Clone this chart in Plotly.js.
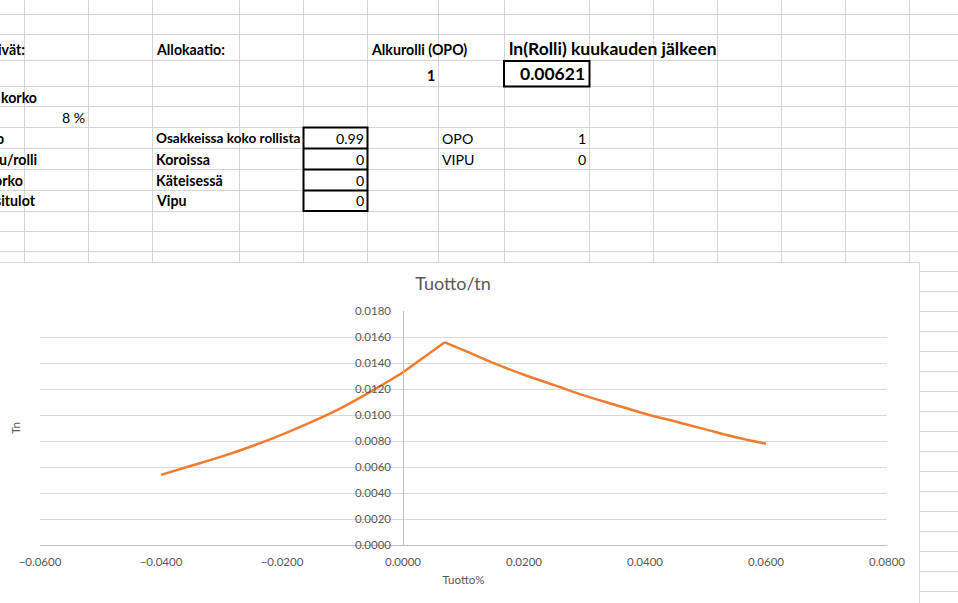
<!DOCTYPE html>
<html>
<head>
<meta charset="utf-8">
<script src="https://cdn.plot.ly/plotly-3.0.1.min.js"></script>
<style>html,body{margin:0;padding:0;background:#fff;}#chart{width:958px;height:603px;}</style>
</head>
<body>
<div id="chart"></div>
<script>
// ---- Data ----
var tuottoPct = [-0.040, -0.035, -0.030, -0.025, -0.020, -0.015, -0.010, -0.005, 0.000, 0.003, 0.0069,
                 0.010, 0.015, 0.020, 0.025, 0.030, 0.035, 0.040, 0.045, 0.050, 0.055, 0.060];
var tn = [0.0054, 0.0061, 0.0068, 0.0076, 0.0085, 0.0095, 0.0106, 0.0119, 0.0133, 0.0143, 0.0156,
          0.0150, 0.0140, 0.0131, 0.0123, 0.0115, 0.0108, 0.0101, 0.0095, 0.0089, 0.0083, 0.0078];

var chartTitle = 'Tuotto/tn';
var xTitle = 'Tuotto%';
var yTitle = 'Tn';

// Spreadsheet cell texts
var sheetLabels = ['ivät:', 'Allokaatio:', 'Alkurolli (OPO)', 'ln(Rolli) kuukauden jälkeen',
                   'korko', 'o', 'u/rolli', 'orko', 'situlot',
                   'Osakkeissa koko rollista', 'Koroissa', 'Käteisessä', 'Vipu', 'OPO', 'VIPU'];
var alkurolli = '1';
var lnRolli = '0.00621';
var korkoPct = '8 %';
var allocValues = ['0.99', '0', '0', '0'];
var flagValues = ['1', '0'];

// ---- Geometry helpers (pixel -> paper) ----
var L = 40, R = 887, T = 311, B = 545;
var W = R - L, H = B - T;
function fx(px) { return (px - L) / W; }
function fy(py) { return (B - py) / H; }

var FONT = 'Lato, "Open Sans", sans-serif';
var GRID = '#D6D6D6';

var shapes = [];
function line(x0, y0, x1, y1, color, width) {
  shapes.push({type: 'line', xref: 'paper', yref: 'paper', layer: 'below',
    x0: fx(x0), y0: fy(y0), x1: fx(x1), y1: fy(y1),
    line: {color: color, width: width}});
}
function rect(x0, y0, x1, y1, fill, color, width) {
  shapes.push({type: 'rect', xref: 'paper', yref: 'paper', layer: 'below',
    x0: fx(x0), y0: fy(y0), x1: fx(x1), y1: fy(y1),
    fillcolor: fill, line: {color: color, width: width}});
}

// spreadsheet grid
var colX = [24.5, 88.5, 152.5, 239.5, 303.5, 367.5, 438.5, 504.5, 589.5, 653.5, 717.5, 781.5, 845.5, 909.5];
colX.forEach(function (x) { line(x, -5, x, 262, GRID, 1); });
var rowY = [14.5, 34.5, 60.5, 86.5, 106.5, 127.5, 148.5, 169.5, 190.5, 211.5, 231.5, 251.5];
for (var y = 271.5; y < 610; y += 20) rowY.push(y);
rowY.forEach(function (y) { line(-5, y, 965, y, GRID, 1); });

// chart area
rect(-5, 262.5, 919.5, 620, '#FFFFFF', '#D9D9D9', 1);

// bordered cells
rect(504, 61, 589.5, 86.5, 'rgba(0,0,0,0)', '#000000', 2);
rect(303.5, 127.5, 367.5, 211, 'rgba(0,0,0,0)', '#000000', 2);
line(303.5, 148.5, 367.5, 148.5, '#000000', 2);
line(303.5, 169.5, 367.5, 169.5, '#000000', 2);
line(303.5, 190.5, 367.5, 190.5, '#000000', 2);

// cell text annotations
var annotations = [];
function txt(text, px, py, anchor, size, bold) {
  annotations.push({text: text, xref: 'paper', yref: 'paper', x: fx(px), y: fy(py),
    xanchor: anchor, yanchor: 'middle', showarrow: false, borderpad: 0,
    font: {family: FONT, size: size, color: '#000000', weight: bold ? 700 : 400}});
}
var bs = 14.2;
txt(sheetLabels[0], 26, 49, 'right', bs, true);
txt(sheetLabels[1], 155, 49, 'left', bs, true);
txt(sheetLabels[2], 370, 49, 'left', bs, true);
txt(sheetLabels[3], 508, 48, 'left', 17.5, true);
txt(alkurolli, 436, 75, 'right', bs, true);
txt(lnRolli, 586, 73.5, 'right', 17.5, true);
txt(sheetLabels[4], 37.5, 97.5, 'right', bs, true);
txt(korkoPct, 85.5, 117, 'right', bs, false);
txt(sheetLabels[5], 4.5, 138, 'right', bs, true);
txt(sheetLabels[6], 37.5, 159, 'right', bs, true);
txt(sheetLabels[7], 24, 180, 'right', bs, true);
txt(sheetLabels[8], 36.5, 201, 'right', bs, true);
txt(sheetLabels[9], 155, 138, 'left', 13.6, true);
txt(sheetLabels[10], 155, 159, 'left', bs, true);
txt(sheetLabels[11], 155, 180, 'left', bs, true);
txt(sheetLabels[12], 155, 201, 'left', bs, true);
allocValues.forEach(function (v, i) { txt(v, 365, 138 + 21 * i, 'right', bs, false); });
txt(sheetLabels[13], 441, 138, 'left', bs, false);
txt(sheetLabels[14], 441, 159, 'left', bs, false);
flagValues.forEach(function (v, i) { txt(v, 586.5, 138 + 21 * i, 'right', bs, false); });

// split the series at its peak so each side is smoothed but the peak stays sharp
var peak = tn.indexOf(Math.max.apply(null, tn));
function seg(a, b) {
  return {
    x: tuottoPct.slice(a, b), y: tn.slice(a, b), type: 'scatter', mode: 'lines',
    line: {color: '#ED7D31', width: 2.5, shape: 'spline', smoothing: 0.8},
    hoverinfo: 'x+y', name: 'Tn'
  };
}
var traces = [seg(0, peak + 1), seg(peak, tn.length)];

var tickFont = {family: FONT, size: 11.5, color: '#595959'};
var layout = {
  width: 958, height: 603, autosize: false,
  margin: {l: L, r: 958 - R, t: T, b: 603 - B, pad: 0},
  paper_bgcolor: '#FFFFFF', plot_bgcolor: 'rgba(0,0,0,0)',
  showlegend: false,
  title: {text: chartTitle, xref: 'container', yref: 'container', x: 453 / 958, xanchor: 'center',
          y: 1 - 284 / 603, yanchor: 'middle', font: {family: FONT, size: 18, color: '#595959'}},
  xaxis: {
    range: [-0.06, 0.08], dtick: 0.02, tick0: 0, tickformat: '.4f',
    showgrid: false, zeroline: false, showline: true, linecolor: '#BFBFBF', linewidth: 1,
    ticks: '', tickfont: tickFont, ticklabelstandoff: 6,
    title: {text: xTitle, font: {family: FONT, size: 11.5, color: '#595959'}, standoff: 9}
  },
  yaxis: {
    range: [0, 0.01801], dtick: 0.002, tick0: 0, tickformat: '.4f',
    showgrid: true, gridcolor: '#D9D9D9', gridwidth: 1,
    zeroline: false, showline: true, linecolor: '#BFBFBF', linewidth: 1,
    anchor: 'free', position: fx(403.3),
    ticks: '', tickfont: tickFont, ticklabelstandoff: 10,
    title: {text: yTitle, font: {family: FONT, size: 11.5, color: '#595959'}, standoff: 330}
  },
  shapes: shapes,
  annotations: annotations
};

Plotly.newPlot('chart', traces, layout, {displayModeBar: false, staticPlot: true});
</script>
</body>
</html>
